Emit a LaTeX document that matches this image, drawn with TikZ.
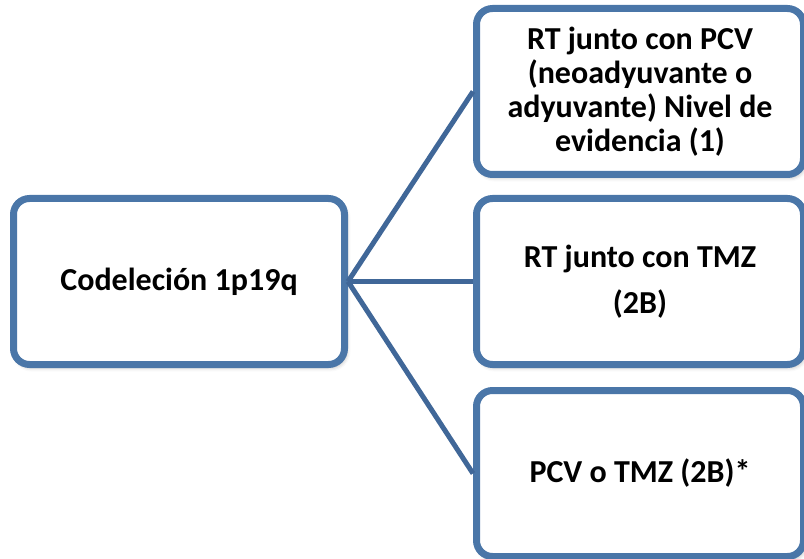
\documentclass[tikz,border=0pt]{standalone}
\usepackage{fontspec}
\setmainfont{Carlito}
\usetikzlibrary{shadows.blur}
\definecolor{boxblue}{HTML}{4A76A8}
\definecolor{lineblue}{HTML}{406798}
\begin{document}
\begin{tikzpicture}[x=1pt,y=1pt,
  box/.style={draw=boxblue, line width=7pt, fill=white, rounded corners=16pt,
    align=center, inner sep=0pt,
    font=\fontsize{32}{34}\selectfont\bfseries,
    blur shadow={shadow xshift=2pt, shadow yshift=-3pt, shadow blur radius=4pt, shadow opacity=30}},
  conn/.style={draw=lineblue, line width=5pt}]
\useasboundingbox (0,0) rectangle (804,-559);
\node[box, minimum width=331pt, minimum height=166pt] (L) at (179,-281.5) {Codeleción 1p19q};
\node[box, minimum width=327pt, minimum height=166pt] (A) at (640,-91.5) {RT junto con PCV\\(neoadyuvante o\\adyuvante) Nivel de\\evidencia (1)};
\node[box, minimum width=327pt, minimum height=166pt] (B) at (640,-281.5) {RT junto con TMZ\\[12pt](2B)};
\node[box, minimum width=327pt, minimum height=166pt] (C) at (640,-473.5) {PCV o TMZ (2B)*};
\draw[conn] (L.east) -- (A.west);
\draw[conn] (L.east) -- (B.west);
\draw[conn] (L.east) -- (C.west);
\end{tikzpicture}
\end{document}
